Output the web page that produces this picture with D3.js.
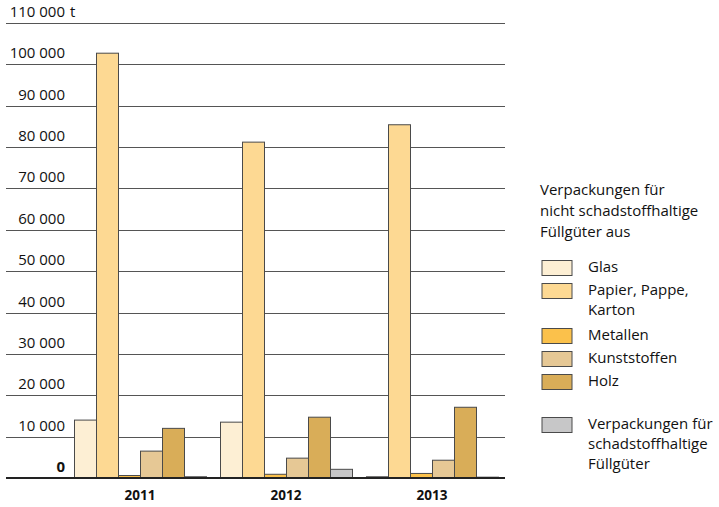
<!DOCTYPE html>
<html>
<head>
<meta charset="utf-8">
<script src="https://cdn.jsdelivr.net/npm/d3@7"></script>
<style>
  body { margin: 0; background: #fff; }
  text { font-family: "Open Sans", "Noto Sans", sans-serif; fill: #111; }
</style>
</head>
<body>
<div class="chart"></div>
<script>
// Verpackungsabfälle nach Material, 2011-2013

var years = ["2011", "2012", "2013"];
var seriesNames = ["Glas", "Papier, Pappe, Karton", "Metallen", "Kunststoffen", "Holz", "Schadstoffhaltig"];
var glas = [14000, 13500, 300];
var papier = [102700, 81200, 85400];
var metallen = [600, 900, 1100];
var kunststoffe = [6500, 4800, 4300];
var holz = [12000, 14700, 17100];
var schadstoffhaltig = [300, 2100, 200];
var yTicks = [0, 10000, 20000, 30000, 40000, 50000, 60000, 70000, 80000, 90000, 100000, 110000];

var legendTitle = ["Verpackungen für", "nicht schadstoffhaltige", "Füllgüter aus"];
var legendLabels = [["Glas"], ["Papier, Pappe,", "Karton"], ["Metallen"], ["Kunststoffen"], ["Holz"],
                    ["Verpackungen für", "schadstoffhaltige", "Füllgüter"]];

var colors = ["#fdefd4", "#fdd993", "#fbc14b", "#e6c895", "#d9ad58", "#c7c7c8"];

var svgWidth = 719;
var svgHeight = 507;

var svg = d3.select(".chart")
  .append("svg")
  .attr("width", svgWidth)
  .attr("height", svgHeight);

// build one row per year
var values = [glas, papier, metallen, kunststoffe, holz, schadstoffhaltig];
var rows = years.map(function(y, i) {
  return { year: y, vals: values.map(function(v, s) { return { key: seriesNames[s], idx: s, value: v[i] }; }) };
});

var yScale = d3.scaleLinear()
  .domain([0, 110000])
  .range([478, 23]);

var x0 = d3.scaleBand()
  .domain(years)
  .range([67, 505])
  .paddingInner(14 / 146)
  .paddingOuter(7 / 146);

var x1 = d3.scaleBand()
  .domain(seriesNames)
  .range([0, x0.bandwidth()]);

var fmt = d3.formatLocale({ decimal: ",", thousands: " ", grouping: [3], currency: ["", ""] }).format(",d");

// gridlines
var grid = svg.append("g");
grid.selectAll("line")
  .data(yTicks.filter(function(d) { return d > 0; }))
  .enter()
  .append("line")
  .attr("x1", 6)
  .attr("x2", 505)
  .attr("y1", d => Math.round(yScale(d)) + 0.5)
  .attr("y2", d => Math.round(yScale(d)) + 0.5)
  .attr("stroke", "#555")
  .attr("stroke-width", 1);

// tick labels
grid.selectAll("text")
  .data(yTicks)
  .enter()
  .append("text")
  .attr("x", 65)
  .attr("y", d => yScale(d) - 6)
  .attr("text-anchor", "end")
  .attr("font-size", 15)
  .attr("font-weight", d => d === 0 ? "bold" : "normal")
  .text(d => fmt(d));

svg.append("text")
  .attr("x", 70)
  .attr("y", yScale(110000) - 6)
  .attr("font-size", 15)
  .text("t");

// bars
var groups = svg.selectAll(".year")
  .data(rows)
  .enter()
  .append("g")
  .attr("class", "year")
  .attr("transform", d => `translate(${x0(d.year)},0)`);

groups.selectAll("rect")
  .data(d => d.vals)
  .enter()
  .append("rect")
  .attr("x", d => x1(d.key) + 0.5)
  .attr("y", d => yScale(d.value))
  .attr("width", x1.bandwidth())
  .attr("height", d => yScale(0) - yScale(d.value))
  .attr("fill", d => colors[d.idx])
  .attr("stroke", "#4a4a4a")
  .attr("stroke-width", 1);

// baseline
svg.append("line")
  .attr("x1", 6)
  .attr("x2", 505)
  .attr("y1", yScale(0))
  .attr("y2", yScale(0))
  .attr("stroke", "#222")
  .attr("stroke-width", 2);

// year labels
svg.selectAll(".yearLabel")
  .data(years)
  .enter()
  .append("text")
  .attr("class", "yearLabel")
  .attr("x", d => x0(d) + x0.bandwidth() / 2)
  .attr("y", 500)
  .attr("text-anchor", "middle")
  .attr("font-size", 13.5)
  .attr("font-weight", "bold")
  .text(d => d);

// legend
var legend = svg.append("g");
legend.append("text")
  .attr("font-size", 15)
  .selectAll("tspan")
  .data(legendTitle)
  .enter()
  .append("tspan")
  .attr("x", 540)
  .attr("y", (d, i) => 195 + i * 21)
  .text(d => d);

var swatchY = [260, 283, 328, 351, 374, 417];
var items = legend.selectAll(".item")
  .data(legendLabels)
  .enter()
  .append("g")
  .attr("class", "item");

items.append("rect")
  .attr("x", 542)
  .attr("y", (d, i) => swatchY[i] + 0.5)
  .attr("width", 30)
  .attr("height", 15)
  .attr("fill", (d, i) => colors[i])
  .attr("stroke", "#4a4a4a");

items.append("text")
  .attr("font-size", 15)
  .each(function(d, i) {
    d3.select(this).selectAll("tspan")
      .data(d)
      .enter()
      .append("tspan")
      .attr("x", 588)
      .attr("y", (t, j) => swatchY[i] + 12 + j * 20)
      .text(t => t);
  });
</script>
</body>
</html>
